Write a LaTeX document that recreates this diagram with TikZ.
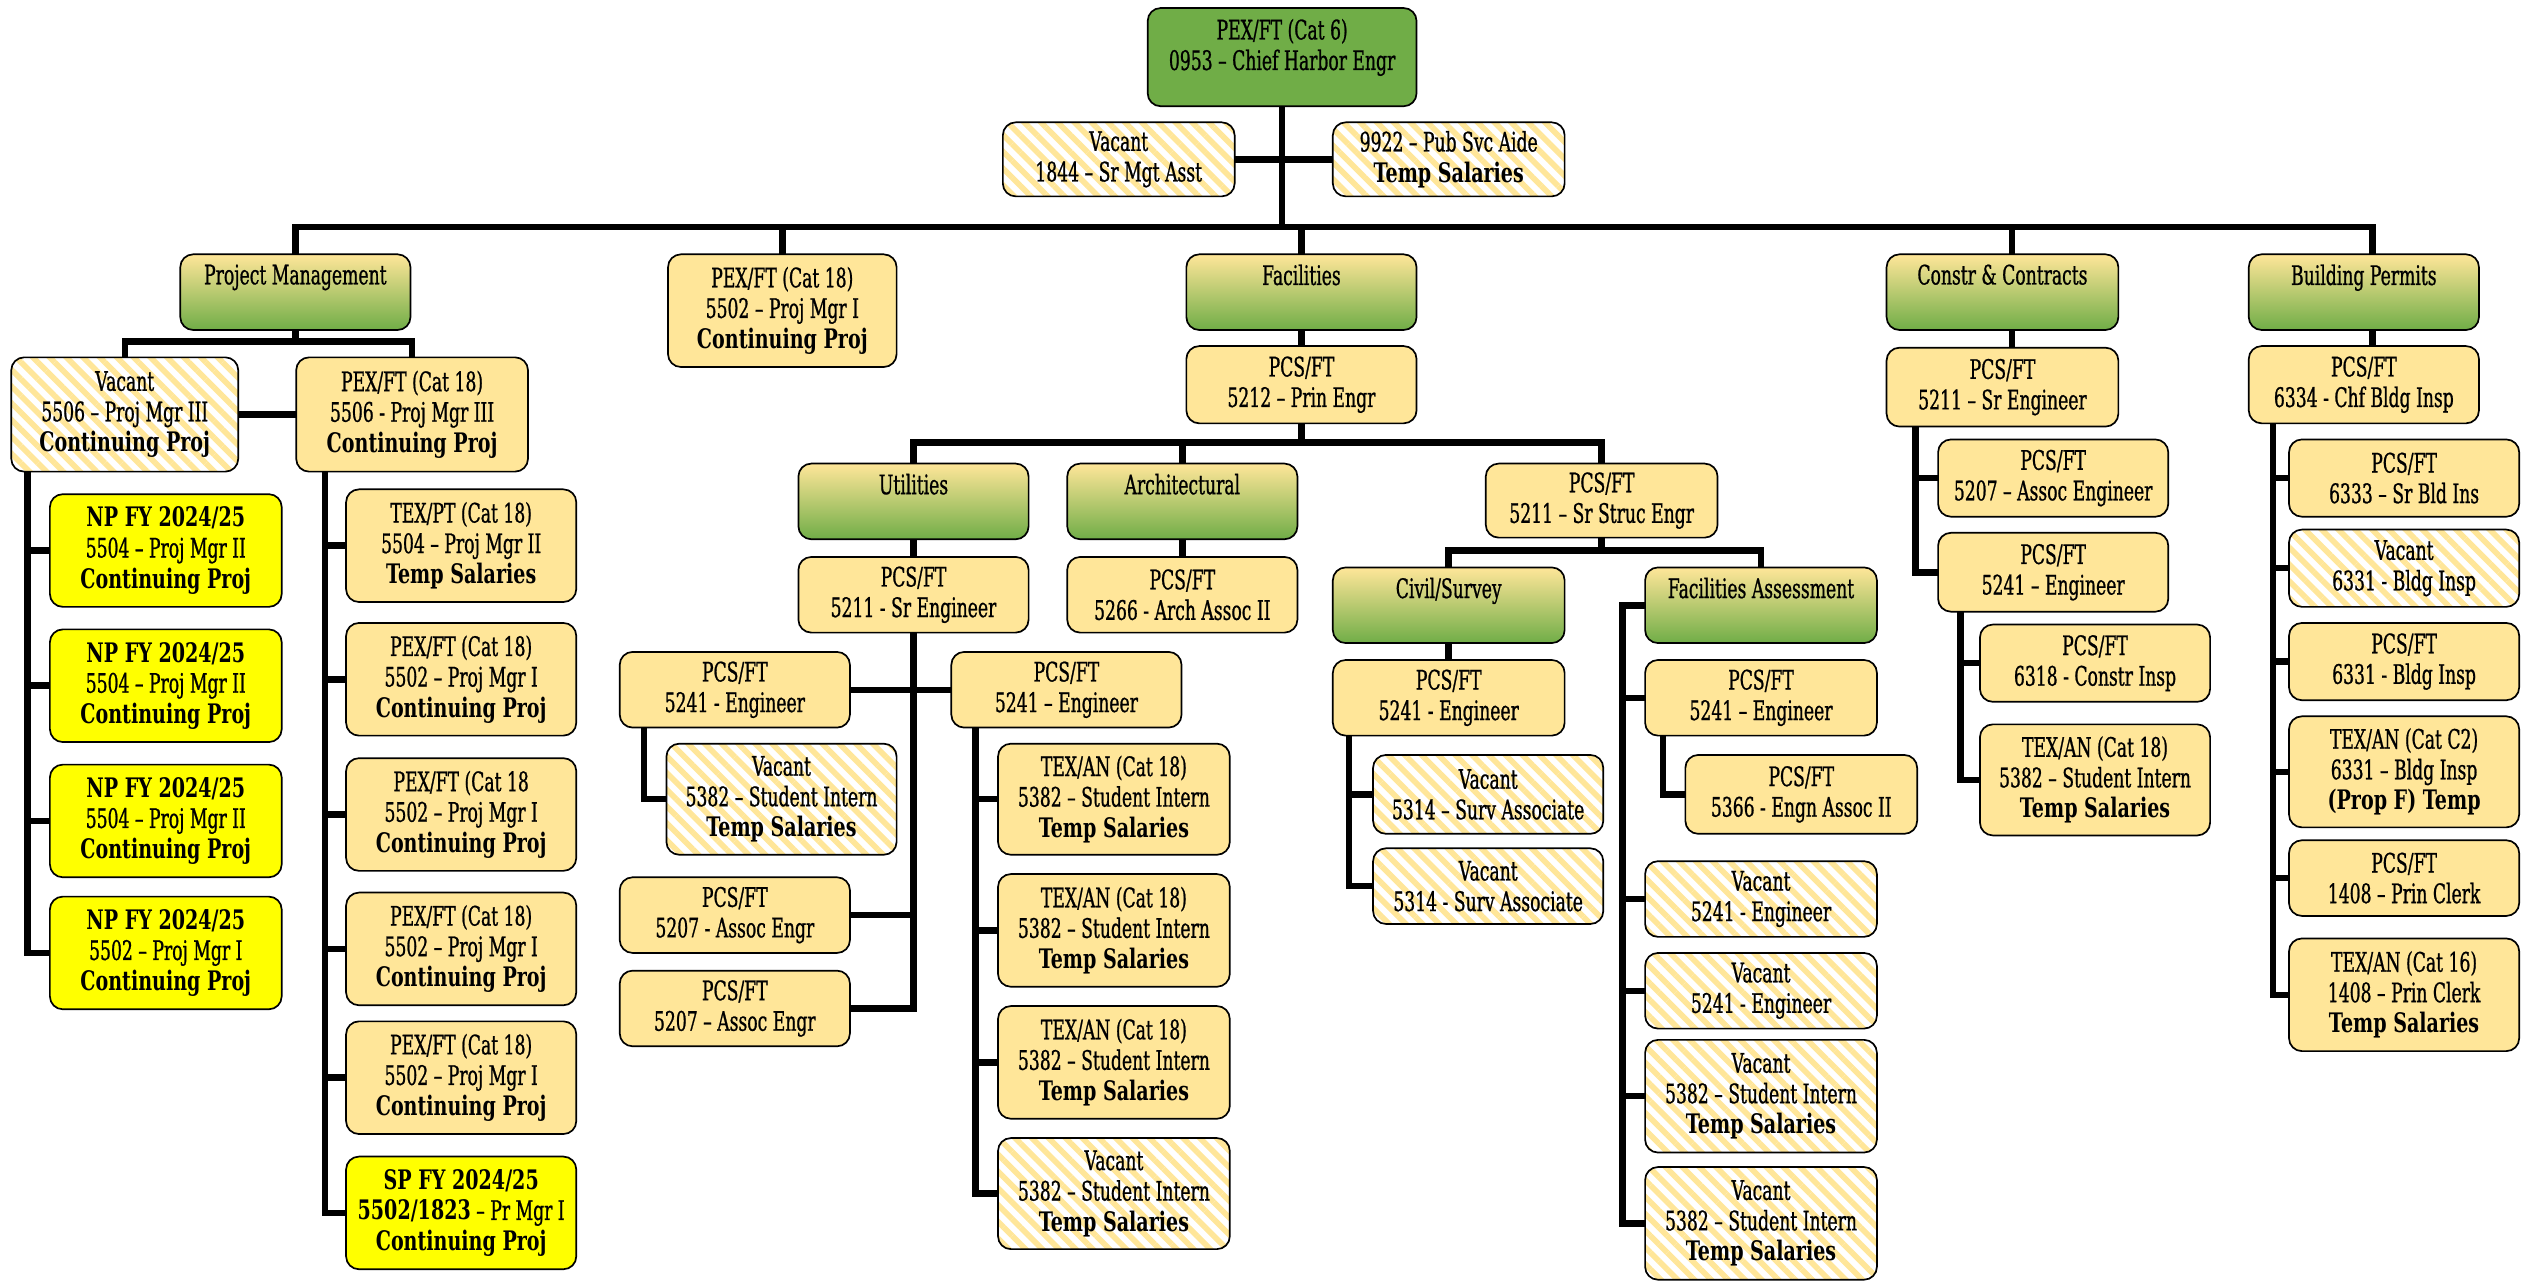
\documentclass[tikz,border=0pt]{standalone}
\usepackage{fontspec}
\setmainfont{DejaVu Serif}[FakeStretch=0.64, FakeBold=0.8]
\newfontfamily\boldfam{DejaVu Serif}[FakeStretch=0.71]
\usetikzlibrary{patterns.meta,calc,backgrounds}
\definecolor{ly}{HTML}{FFE699}
\definecolor{gr}{HTML}{70AD47}
\definecolor{yy}{HTML}{FFFF00}
\newcommand\BoldT[1]{{\boldfam\bfseries #1}}
\newcommand\HdrNode[5]{%
  \node[hdr, wh={#4}{47}] (#1) at (#2,#3) {};
  \node[txt, anchor=north] (#1t) at ($(#1.north)+(0,6)$) {#5};}
\tikzset{
  bxbase/.style={draw=black, line width=0.6pt, rounded corners=0.16cm, inner sep=0pt, outer sep=0pt, align=center, font=\fontsize{9.5}{10.8}\selectfont},
  wh/.style 2 args={minimum width=#1*0.02cm, minimum height=#2*0.02cm},
  sbox/.style={bxbase, fill=ly},
  npbox/.style={bxbase, fill=yy},
  vbox/.style={bxbase, preaction={fill=white}, pattern={Lines[angle=-45,distance=4.2pt,line width=2pt]}, pattern color=ly},
  hdr/.style={bxbase, top color=ly, bottom color=gr},
  gbox/.style={bxbase, fill=gr},
  txt/.style={inner sep=0pt, align=center, font=\fontsize{9.5}{10.8}\selectfont},
  conn/.style={line width=2.3pt, draw=black},
}
\begin{document}
\begin{tikzpicture}[x=0.02cm, y=-0.02cm]
\useasboundingbox (0,0) rectangle (1568,796.4);
% ---- top
\node[gbox, wh={167}{61}] (top) at (796.5,35.5) {};
\node[txt] (topt) at (796.5,29.5) {PEX/FT (Cat 6)\\0953 – Chief Harbor Engr};
\node[vbox, wh={144}{46}] (vac1844) at (695,99) {Vacant\\1844 – Sr Mgt Asst};
\node[vbox, wh={144}{46}] (pub9922) at (900,99) {9922 – Pub Svc Aide\\\BoldT{Temp Salaries}};
% ---- level 2
\HdrNode{pm}{183.5}{181.5}{143}{Project Management}
\node[sbox, wh={142}{70}] (pex5502a) at (486,193) {PEX/FT (Cat 18)\\5502 – Proj Mgr I\\\BoldT{Continuing Proj}};
\HdrNode{fac}{808.5}{181.5}{143}{Facilities}
\HdrNode{cc}{1244}{181.5}{144}{Constr \& Contracts}
\HdrNode{bp}{1468.5}{181.5}{143}{Building Permits}
% ---- project management
\node[vbox, wh={141}{71}] (vac5506) at (77.5,257.5) {Vacant\\5506 – Proj Mgr III\\\BoldT{Continuing Proj}};
\node[sbox, wh={144}{71}] (pex5506) at (256,257.5) {PEX/FT (Cat 18)\\5506 - Proj Mgr III\\\BoldT{Continuing Proj}};
\node[npbox, wh={144}{70}] (np1) at (103,342) {\BoldT{NP FY 2024/25}\\5504 – Proj Mgr II\\\BoldT{Continuing Proj}};
\node[npbox, wh={144}{70}] (np2) at (103,426) {\BoldT{NP FY 2024/25}\\5504 – Proj Mgr II\\\BoldT{Continuing Proj}};
\node[npbox, wh={144}{70}] (np3) at (103,510) {\BoldT{NP FY 2024/25}\\5504 – Proj Mgr II\\\BoldT{Continuing Proj}};
\node[npbox, wh={144}{70}] (np4) at (103,592) {\BoldT{NP FY 2024/25}\\5502 – Proj Mgr I\\\BoldT{Continuing Proj}};
\node[sbox, wh={143}{70}] (texpt) at (286.5,339) {TEX/PT (Cat 18)\\5504 – Proj Mgr II\\\BoldT{Temp Salaries}};
\node[sbox, wh={143}{70}] (pexb) at (286.5,422) {PEX/FT (Cat 18)\\5502 – Proj Mgr I\\\BoldT{Continuing Proj}};
\node[sbox, wh={143}{70}] (pexc) at (286.5,506) {PEX/FT (Cat 18\\5502 – Proj Mgr I\\\BoldT{Continuing Proj}};
\node[sbox, wh={143}{70}] (pexd) at (286.5,589.5) {PEX/FT (Cat 18)\\5502 – Proj Mgr I\\\BoldT{Continuing Proj}};
\node[sbox, wh={143}{70}] (pexe) at (286.5,669.5) {PEX/FT (Cat 18)\\5502 – Proj Mgr I\\\BoldT{Continuing Proj}};
\node[npbox, wh={143}{70}] (sp) at (286.5,753.5) {\BoldT{SP FY 2024/25}\\\BoldT{5502/1823} – Pr Mgr I\\\BoldT{Continuing Proj}};
% ---- facilities
\node[sbox, wh={143}{48}] (p5212) at (808.5,239) {PCS/FT\\5212 – Prin Engr};
\HdrNode{util}{567.5}{311.5}{143}{Utilities}
\HdrNode{arch}{734.5}{311.5}{143}{Architectural}
\node[sbox, wh={144}{46}] (struc) at (995,311) {PCS/FT\\5211 – Sr Struc Engr};
\node[sbox, wh={143}{47}] (u5211) at (567.5,369.5) {PCS/FT\\5211 - Sr Engineer};
\node[sbox, wh={143}{47}] (a5266) at (734.5,369.5) {PCS/FT\\5266 - Arch Assoc II};
\node[sbox, wh={143}{47}] (l5241) at (456.5,428.5) {PCS/FT\\5241 - Engineer};
\node[vbox, wh={143}{69}] (lv5382) at (485.5,496.5) {Vacant\\5382 – Student Intern\\\BoldT{Temp Salaries}};
\node[sbox, wh={143}{47}] (l5207a) at (456.5,568.5) {PCS/FT\\5207 - Assoc Engr};
\node[sbox, wh={143}{47}] (l5207b) at (456.5,626.5) {PCS/FT\\5207 – Assoc Engr};
\node[sbox, wh={143}{47}] (r5241) at (662.5,428.5) {PCS/FT\\5241 – Engineer};
\node[sbox, wh={144}{69}] (rtex1) at (692,496.5) {TEX/AN (Cat 18)\\5382 – Student Intern\\\BoldT{Temp Salaries}};
\node[sbox, wh={144}{70}] (rtex2) at (692,578) {TEX/AN (Cat 18)\\5382 – Student Intern\\\BoldT{Temp Salaries}};
\node[sbox, wh={144}{70}] (rtex3) at (692,660) {TEX/AN (Cat 18)\\5382 – Student Intern\\\BoldT{Temp Salaries}};
\node[vbox, wh={144}{69}] (rvac) at (692,741.5) {Vacant\\5382 – Student Intern\\\BoldT{Temp Salaries}};
\HdrNode{civil}{900}{376}{144}{Civil/Survey}
\HdrNode{fa}{1094}{376}{144}{Facilities Assessment}
\node[sbox, wh={144}{47}] (c5241e) at (900,433.5) {PCS/FT\\5241 - Engineer};
\node[vbox, wh={143}{49}] (v5314a) at (924.5,493.5) {Vacant\\5314 – Surv Associate};
\node[vbox, wh={143}{47}] (v5314b) at (924.5,550.5) {Vacant\\5314 - Surv Associate};
\node[sbox, wh={144}{47}] (f5241) at (1094,433.5) {PCS/FT\\5241 – Engineer};
\node[sbox, wh={144}{49}] (f5366) at (1119,493.5) {PCS/FT\\5366 - Engn Assoc II};
\node[vbox, wh={144}{47}] (fv5241a) at (1094,558.5) {Vacant\\5241 - Engineer};
\node[vbox, wh={144}{47}] (fv5241b) at (1094,615.5) {Vacant\\5241 - Engineer};
\node[vbox, wh={144}{70}] (fv5382a) at (1094,681) {Vacant\\5382 – Student Intern\\\BoldT{Temp Salaries}};
\node[vbox, wh={144}{70}] (fv5382b) at (1094,760) {Vacant\\5382 – Student Intern\\\BoldT{Temp Salaries}};
% ---- constr & contracts
\node[sbox, wh={144}{49}] (c5211) at (1244,240.5) {PCS/FT\\5211 – Sr Engineer};
\node[sbox, wh={143}{48}] (c5207) at (1275.5,297) {PCS/FT\\5207 – Assoc Engineer};
\node[sbox, wh={143}{49}] (c5241) at (1275.5,355.5) {PCS/FT\\5241 – Engineer};
\node[sbox, wh={143}{48}] (c6318) at (1301.5,412) {PCS/FT\\6318 - Constr Insp};
\node[sbox, wh={143}{69}] (ctex) at (1301.5,484.5) {TEX/AN (Cat 18)\\5382 – Student Intern\\\BoldT{Temp Salaries}};
% ---- building permits
\node[sbox, wh={143}{48}] (b6334) at (1468.5,239) {PCS/FT\\6334 - Chf Bldg Insp};
\node[sbox, wh={143}{48}] (b6333) at (1493.5,297) {PCS/FT\\6333 – Sr Bld Ins};
\node[vbox, wh={143}{48}] (bv6331) at (1493.5,353) {Vacant\\6331 - Bldg Insp};
\node[sbox, wh={143}{48}] (b6331) at (1493.5,411) {PCS/FT\\6331 - Bldg Insp};
\node[sbox, wh={143}{69}] (btex) at (1493.5,479.5) {TEX/AN (Cat C2)\\6331 – Bldg Insp\\\BoldT{(Prop F) Temp}};
\node[sbox, wh={143}{47}] (b1408) at (1493.5,545.5) {PCS/FT\\1408 – Prin Clerk};
\node[sbox, wh={143}{70}] (btex16) at (1493.5,618) {TEX/AN (Cat 16)\\1408 – Prin Clerk\\\BoldT{Temp Salaries}};
% ---- connectors
\begin{pgfonlayer}{background}
\coordinate (bus0y) at (0,141);
\coordinate (ccx0) at (1250,0);
\coordinate (bpx0) at (1474,0);
\draw[conn] (top.south) -- (top.south |- bus0y);
\draw[conn] (vac1844.east) -- (pub9922.west);
\draw[conn] (pm.north) -- (pm.north |- bus0y) -- (bus0y -| bpx0) -- (bp.north -| bpx0);
\foreach \n in {pex5502a,fac} \draw[conn] (\n.north |- bus0y) -- (\n.north);
\draw[conn] (bus0y -| ccx0) -- (cc.north -| ccx0);
% PM
\coordinate (pmy) at (0,212);
\draw[conn] (pm.south) -- (pm.south |- pmy);
\draw[conn] (vac5506.north) -- (vac5506.north |- pmy) -- (pex5506.north |- pmy) -- (pex5506.north);
\draw[conn] (vac5506.east) -- (pex5506.west);
\coordinate (pmLx) at (17,0);
\draw[conn] (vac5506.south -| pmLx) |- (np4.west);
\foreach \n in {np1,np2,np3} \draw[conn] (\n.west -| pmLx) -- (\n.west);
\coordinate (pmRx) at (202,0);
\draw[conn] (pex5506.south -| pmRx) |- (sp.west);
\foreach \n in {texpt,pexb,pexc,pexd,pexe} \draw[conn] (\n.west -| pmRx) -- (\n.west);
% Facilities
\draw[conn] (fac.south) -- (p5212.north);
\coordinate (fy) at (0,275);
\draw[conn] (p5212.south) -- (p5212.south |- fy);
\draw[conn] (util.north) -- (util.north |- fy) -- (struc.north |- fy) -- (struc.north);
\draw[conn] (arch.north |- fy) -- (arch.north);
\draw[conn] (util.south) -- (u5211.north);
\draw[conn] (arch.south) -- (a5266.north);
\draw[conn] (u5211.south) |- (l5207b.east);
\draw[conn] (l5241.east) -- (r5241.west);
\draw[conn] (l5207a.east) -- (l5207a.east -| u5211.south);
\coordinate (ulx) at (400,0);
\draw[conn] (l5241.south -| ulx) |- (lv5382.west);
\coordinate (urx) at (606,0);
\draw[conn] (r5241.south -| urx) |- (rvac.west);
\foreach \n in {rtex1,rtex2,rtex3} \draw[conn] (\n.west -| urx) -- (\n.west);
% Struc
\coordinate (sy) at (0,342);
\draw[conn] (struc.south) -- (struc.south |- sy);
\draw[conn] (civil.north) -- (civil.north |- sy) -- (fa.north |- sy) -- (fa.north);
\draw[conn] (civil.south) -- (c5241e.north);
\coordinate (cvx) at (838,0);
\draw[conn] (c5241e.south -| cvx) |- (v5314b.west);
\draw[conn] (v5314a.west -| cvx) -- (v5314a.west);
\coordinate (fax) at (1008,0);
\draw[conn] (fa.west) -- (fa.west -| fax) |- (fv5382b.west);
\foreach \n in {f5241,fv5241a,fv5241b,fv5382a} \draw[conn] (\n.west -| fax) -- (\n.west);
\coordinate (f2x) at (1033,0);
\draw[conn] (f5241.south -| f2x) |- (f5366.west);
% CC
\draw[conn] (cc.south -| ccx0) -- (c5211.north -| ccx0);
\coordinate (ccx) at (1190,0);
\draw[conn] (c5211.south -| ccx) |- (c5241.west);
\draw[conn] (c5207.west -| ccx) -- (c5207.west);
\coordinate (cc2x) at (1218,0);
\draw[conn] (c5241.south -| cc2x) |- (ctex.west);
\draw[conn] (c6318.west -| cc2x) -- (c6318.west);
% BP
\draw[conn] (bp.south -| bpx0) -- (b6334.north -| bpx0);
\coordinate (bpx) at (1412,0);
\draw[conn] (b6334.south -| bpx) |- (btex16.west);
\foreach \n in {b6333,bv6331,b6331,btex,b1408} \draw[conn] (\n.west -| bpx) -- (\n.west);
\end{pgfonlayer}
\end{tikzpicture}
\end{document}
